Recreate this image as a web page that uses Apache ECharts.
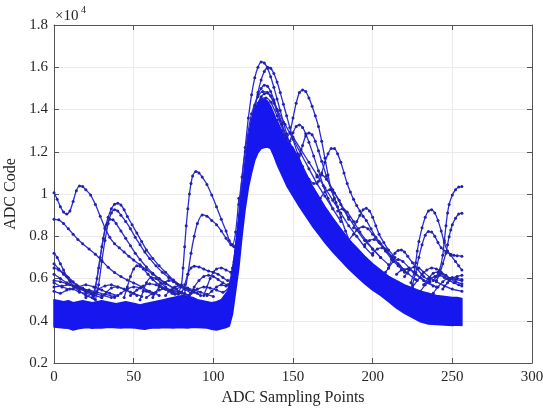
<!DOCTYPE html>
<html><head><meta charset="utf-8">
<script src="https://cdn.jsdelivr.net/npm/echarts@6/dist/echarts.min.js"></script>
<style>html,body{margin:0;padding:0;background:#fff}#c{width:543px;height:408px}</style>
</head><body><div id="c"></div>
<script>
// x-axis ticks and y-axis ticks (ADC code, labelled in units of 1e4)
const xTicks = [0, 50, 100, 150, 200, 250, 300];
const yTicks = [2000, 4000, 6000, 8000, 10000, 12000, 14000, 16000, 18000];

// dense envelope of the many overlapping traces (noise floor + main pulse)
const bandX = [0,3,6,9,12,15,18,21,24,27,30,33,36,39,42,45,48,51,54,57,60,63,66,69,72,75,78,81,84,87,90,93,96,99,102,105,108,
  110,112,114,116,118,120,122,124,126,128,130,132,134,136,138,140,143,146,
  150,154,158,162,166,170,175,180,185,190,195,200,205,210,215,220,225,230,235,240,245,250,253,256];
const bandLow = [3700,3680,3660,3640,3560,3620,3660,3680,3650,3670,3660,3680,3690,3670,3660,3680,3670,3660,3620,3600,3650,3670,3660,3680,3670,3660,3680,3670,3660,3690,3680,3670,3660,3600,3560,3620,3680,
  3750,4300,5400,6500,8000,9300,10300,11000,11600,11950,12150,12200,12220,12150,11800,11400,10900,10400,
  9900,9400,8950,8500,8100,7700,7250,6850,6450,6100,5750,5450,5200,4900,4600,4350,4150,3950,3850,3820,3800,3780,3800,3780];
const bandHigh = [5000,4950,4900,4950,4850,4900,4950,4900,4850,4900,4950,4900,4850,4800,4850,4900,4850,4800,4750,4800,4850,4900,4950,5000,5050,5100,5150,5200,5150,5100,5000,4950,4900,4850,4900,5000,5300,
  5500,6200,7600,8800,10200,11500,12700,13500,14000,14300,14450,14500,14400,14150,13800,13400,12900,12500,
  12200,11600,11000,10400,9900,9400,8850,8350,7850,7450,7050,6700,6400,6100,5900,5700,5550,5400,5300,5200,5150,5100,5100,5050];

// individual visible traces [sample, ADC code]
const A = [[0,10060],[2,9750],[4,9400],[6,9150],[8,9050],[10,9200],[12,9650],[14,10150],[16,10380],[18,10350],[20,10200],[23,9950],[26,9500],[29,8950],[32,8400],[35,7950],[38,7650],[41,7450],[44,7250],[47,7050],[50,6870],[54,6650],[58,6420],[62,6200],[66,5980],[70,5750],[75,5550],[80,5350],[85,5200]];
const B = [[0,8800],[3,8780],[6,8600],[9,8350],[12,8100],[15,7850],[18,7650],[22,7400],[26,7150],[30,6850],[34,6530],[38,6280],[42,6090],[46,5930],[50,5790],[55,5600],[60,5400],[66,5200]];
const C = [[24,5100],[26,5600],[28,6500],[30,7500],[32,8350],[34,8900],[36,9300],[38,9520],[40,9560],[42,9480],[44,9250],[46,8940],[49,8550],[52,8150],[55,7750],[58,7350],[62,6950],[66,6600],[70,6300],[75,5930],[80,5650],[85,5450],[90,5300]];
const D = [[26,5000],[28,5700],[30,6800],[32,7800],[34,8600],[36,9100],[38,9260],[40,9200],[42,9000],[45,8700],[48,8350],[51,7950],[54,7600],[57,7250],[60,6950],[64,6600],[68,6300],[72,6050],[77,5750],[82,5500]];
const E = [[25,5200],[27,6000],[29,7000],[31,7900],[33,8550],[35,8800],[37,8780],[39,8600],[42,8250],[45,7900],[48,7550],[51,7200],[54,6900],[58,6550],[62,6250],[66,6000],[70,5800],[75,5550],[80,5350]];
const F = [[44,5100],[46,5600],[48,6100],[50,6450],[52,6600],[54,6580],[56,6450],[59,6200],[62,5950],[66,5700],[70,5500],[75,5300]];
const G = [[54,5000],[56,5400],[58,5800],[61,6050],[64,6000],[67,5800],[70,5600],[74,5400],[78,5250]];
const H1 = [[0,7200],[2,7000],[4,6700],[6,6400],[8,6100],[10,5850],[13,5600],[16,5400],[20,5200],[25,5050]];
const H2 = [[0,6700],[3,6450],[6,6250],[9,6050],[12,5850],[15,5650],[19,5450],[24,5250],[30,5100]];
const H3 = [[0,5900],[4,5850],[8,5750],[12,5650],[16,5550],[20,5400],[25,5300],[30,5200],[36,5100]];
const H4 = [[0,5600],[5,5650],[10,5700],[14,5600],[18,5500],[22,5450],[27,5350],[32,5250],[38,5150]];
const H5 = [[0,5400],[4,5300],[8,5450],[12,5500],[16,5350],[20,5300],[25,5200]];
const N1 = [[0,5800],[5,5600],[10,5500],[15,5600],[20,5700],[25,5600],[30,5450],[35,5300],[40,5200]];
const N2 = [[20,5100],[24,5300],[28,5500],[32,5650],[36,5700],[40,5600],[45,5450],[50,5300],[55,5150]];
const N3 = [[38,5100],[42,5300],[46,5500],[50,5600],[54,5550],[58,5400],[62,5250]];
const N4 = [[48,5200],[52,5450],[56,5650],[60,5750],[64,5700],[68,5550],[72,5400],[76,5250]];
const N5 = [[58,5100],[62,5300],[66,5450],[70,5500],[74,5450],[78,5350],[82,5250]];
const N6 = [[74,5300],[77,5500],[80,5600],[84,5550],[88,5450],[92,5350],[96,5250],[100,5150]];
const N7 = [[84,5200],[87,5400],[90,5500],[94,5600],[98,5550],[102,5450],[106,5350],[110,5600]];
const N8 = [[96,5200],[99,5400],[102,5600],[105,5700],[108,5650],[111,5800]];
const N9 = [[0,6200],[4,6000],[8,5800],[12,5650],[16,5500],[20,5400],[24,5300]];
const N10 = [[0,6500],[3,6400],[6,6200],[10,5900],[14,5700],[18,5550],[22,5400],[26,5300]];
const M1 = [[30,5100],[33,5350],[36,5550],[40,5600],[44,5500],[48,5350],[52,5200]];
const M2 = [[62,5100],[64,5350],[66,5600],[69,5800],[72,5900],[75,5850],[78,5700],[82,5500],[86,5300]];
const M3 = [[70,5200],[73,5450],[76,5600],[80,5650],[84,5500],[88,5350],[92,5200]];
const K1 = [[78,5300],[80,5700],[81,6500],[82,7500],[83,8500],[84,9300],[85,10000],[86,10500],[87,10850],[89,11060],[91,11000],[93,10800],[96,10450],[99,9950],[102,9400],[105,8800],[108,8250],[110,7800],[112,7600],[114,8200],[116,9800]];
const K2 = [[82,5300],[84,6200],[86,7200],[88,8000],[90,8600],[93,9010],[96,8950],[99,8750],[102,8550],[105,8250],[108,7900],[111,7600],[113,7500],[115,8000],[117,9000]];
const K3 = [[80,5300],[82,5700],[84,6200],[86,6500],[88,6580],[91,6550],[94,6450],[97,6350],[100,6300],[103,6200],[106,6050],[109,5900],[112,6000],[114,6800]];
const K4 = [[86,5300],[88,5600],[91,5900],[94,6100],[97,6150],[100,6100],[103,5950],[106,5800],[109,5700],[112,6200]];
const K5 = [[94,5200],[96,5600],[98,6000],[100,6300],[102,6450],[105,6500],[108,6400],[111,6300],[113,6800]];
const P1 = [[108,5100],[110,5700],[112,6500],[114,7500],[116,9000],[118,10800],[120,12200],[122,13600],[124,14700],[126,15500],[128,16000],[130,16250],[132,16200],[134,15950],[136,15550],[138,15050],[140,14500],[142,13950],[144,13400],[146,12850],[148,12350],[150,11900],[153,11400]];
const P2 = [[110,5300],[112,5900],[114,6800],[116,7900],[118,9200],[120,10600],[122,11900],[124,13000],[126,14000],[128,14800],[130,15400],[132,15800],[134,16000],[136,15950],[138,15700],[140,15300],[142,14800],[144,14250],[146,13700],[148,13150],[150,12600],[153,11900],[156,11300]];
const P3 = [[112,6200],[114,7300],[116,8600],[118,10000],[120,11400],[122,12600],[124,13500],[126,14200],[128,14700],[130,15000],[132,15150],[134,15100],[136,14850],[138,14450],[140,14000],[143,13300],[146,12600],[149,12000]];
const P4 = [[112,5800],[114,6900],[116,8200],[118,9600],[120,11000],[122,12200],[124,13100],[126,13800],[128,14300],[130,14600],[132,14750],[134,14780],[136,14650],[138,14350],[140,13950],[143,13300],[146,12600]];
const P5 = [[114,6500],[118,9800],[122,12400],[126,13900],[130,14500],[133,14550],[136,14350],[140,13700],[145,12800]];
const P6 = [[116,9500],[120,12000],[124,13800],[128,14600],[131,14850],[134,14800],[138,14300],[142,13500],[146,12700]];
const S1 = [[140,13500],[143,13000],[146,12700],[148,12900],[150,13600],[152,14300],[154,14800],[156,14920],[158,14850],[160,14550],[162,14150],[164,13700],[166,13200],[168,12500],[170,11700],[172,10900],[174,10200],[176,9800],[178,9400],[180,8900],[183,8250],[186,7700],[189,7300],[192,7050],[196,6750],[200,6500]];
const S2 = [[160,10700],[163,10500],[166,10600],[168,11000],[170,11500],[172,11900],[174,12150],[176,12150],[178,11900],[180,11500],[182,11000],[184,10500],[186,10100],[188,9750],[190,9450],[192,9200],[194,8950],[196,8750],[199,8350],[202,7950],[205,7650],[208,7350],[212,7000],[216,6700],[220,6400]];
const S3 = [[146,12300],[148,12500],[150,12900],[152,13200],[154,13270],[156,13150],[158,12850],[160,12450],[163,11800],[166,11100],[169,10400],[172,9800],[175,9300]];
const S4 = [[152,11500],[154,11800],[156,12300],[158,12750],[160,12890],[162,12800],[164,12500],[166,12050],[168,11550],[171,10850],[174,10200],[177,9600]];
const S5 = [[164,9700],[167,9800],[170,10100],[173,10200],[176,10050],[179,9700],[182,9250],[185,8800]];
const Q1 = [[140,14000],[145,13300],[150,12600],[155,11900],[160,11200],[165,10500],[170,9900],[175,9300],[180,8700]];
const Q2 = [[150,12700],[155,12100],[160,11500],[165,10900],[170,10300],[175,9700],[180,9100],[185,8500],[190,8000],[195,7500],[200,7100]];
const Q3 = [[165,10800],[168,10900],[171,10700],[175,10200],[180,9500],[185,8900],[190,8300],[195,7800],[200,7400],[205,7000]];
const Q4 = [[178,9200],[181,9300],[184,9150],[188,8700],[192,8200],[196,7800],[200,7400],[205,7000],[210,6650]];
const Q5 = [[195,7600],[198,7800],[201,7850],[204,7700],[208,7300],[212,6900],[216,6600],[220,6300]];
const Q6 = [[200,7200],[203,7400],[206,7450],[209,7300],[213,6950],[217,6600],[222,6250],[227,5950]];
const Q7 = [[210,6500],[213,6800],[216,6900],[219,6800],[223,6500],[227,6200],[232,5900],[238,5650]];
const Q8 = [[220,6100],[223,6400],[226,6550],[229,6500],[232,6300],[236,6050],[240,5850],[245,5650],[250,5500],[256,5400]];
const Q9 = [[232,5700],[235,6000],[238,6250],[241,6300],[244,6200],[248,6000],[252,5850],[256,5750]];
const Q10 = [[244,5500],[247,5800],[250,6000],[253,6100],[256,6150]];
const Q11 = [[215,6200],[218,6400],[222,6450],[226,6300],[230,6050],[235,5800],[240,5600]];
const T1 = [[188,8400],[190,8700],[192,9000],[194,9250],[196,9320],[198,9200],[200,8900],[202,8500],[204,8100],[207,7700],[210,7350],[214,7000]];
const W1 = [[185,7800],[188,8100],[191,8350],[194,8450],[197,8350],[200,8100],[204,7750],[208,7400],[212,7050]];
const U1 = [[208,6300],[210,6500],[212,6900],[214,7200],[216,7330],[218,7350],[220,7250],[222,7050],[225,6750],[228,6450],[232,6100],[236,5850]];
const R1 = [[238,5900],[240,6100],[242,6400],[244,7100],[245,7800],[246,8500],[247,9100],[248,9500],[250,9950],[252,10200],[254,10330],[256,10350]];
const R2 = [[240,5900],[242,6200],[244,6700],[246,7200],[247,7600],[248,7980],[249,8300],[250,8550],[252,8850],[254,9050],[256,9090]];
const R3 = [[224,5800],[226,6300],[227,6750],[228,7300],[229,7750],[231,8400],[233,8900],[235,9200],[237,9250],[239,9100],[241,8750],[243,8250],[245,7700],[247,7300],[249,7150],[251,7100],[253,7080],[256,7050]];
const R4 = [[225,5700],[227,6300],[229,7000],[231,7600],[233,8050],[235,8220],[237,8200],[239,8000],[241,7700],[243,7450],[246,7280],[249,7100],[252,6800],[254,6600],[256,6400]];
const V1 = [[225,5600],[228,5900],[231,6200],[234,6400],[237,6500],[240,6450],[243,6300],[246,6150],[249,6000],[252,5950],[256,5900]];
const V2 = [[230,5400],[233,5700],[236,5950],[239,6100],[242,6150],[245,6050],[248,5900],[251,5800],[254,5700],[256,5650]];
const V3 = [[238,5300],[241,5600],[244,5850],[247,6000],[250,6050],[253,6000],[256,5950]];

const traces = [A,B,C,D,E,F,G,H1,H2,H3,H4,H5,N1,N2,N3,N4,N5,N6,N7,N8,N9,N10,M1,M2,M3,K1,K2,K3,K4,K5,
  P1,P2,P3,P4,P5,P6,S1,S2,S3,S4,S5,Q1,Q2,Q3,Q4,Q5,Q6,Q7,Q8,Q9,Q10,Q11,T1,W1,U1,R1,R2,R3,R4,V1,V2,V3];

const FONT = 'Liberation Serif';
const TXT = '#262626';
const AX = '#555555';
const BAND = '#1616ee';

const chart = echarts.init(document.getElementById('c'), null, {renderer: 'canvas'});
const axLine = {show: true, onZero: false, lineStyle: {color: AX, width: 1}};
const axTick = {show: true, inside: true, length: 5, lineStyle: {color: AX}};
const xBase = {type: 'value', min: xTicks[0], max: xTicks[xTicks.length-1], interval: xTicks[1]-xTicks[0]};
const yBase = {type: 'value', min: yTicks[0], max: yTicks[yTicks.length-1], interval: yTicks[1]-yTicks[0]};

const series = traces.map(t => ({
  type: 'line', data: t, smooth: 0.25, symbol: 'circle', symbolSize: 3, showSymbol: true,
  lineStyle: {color: '#2a2ad8', width: 1.3}, itemStyle: {color: '#2222a8'}, z: 2, silent: true
}));
// dense band drawn as one polygon through the axis scales
series.push({
  type: 'custom', coordinateSystem: 'cartesian2d', data: [[bandX[0], bandLow[0]]], z: 3, silent: true,
  renderItem: function (params, api) {
    const pts = [];
    for (let i = 0; i < bandX.length; i++) pts.push(api.coord([bandX[i], bandHigh[i]]));
    for (let i = bandX.length - 1; i >= 0; i--) pts.push(api.coord([bandX[i], bandLow[i]]));
    return {type: 'polygon', shape: {points: pts}, style: {fill: BAND, stroke: BAND, lineWidth: 1.5, lineJoin: 'round'}};
  }
});

chart.setOption({
  animation: false,
  backgroundColor: '#ffffff',
  grid: {left: 54, right: 11, top: 25, bottom: 45, containLabel: false, outerBoundsMode: 'none'},
  graphic: [
    {type: 'text', left: 55, top: 9, style: {text: '×10', font: '15px "Liberation Serif"', fill: TXT}},
    {type: 'text', left: 81, top: 5, style: {text: '4', font: '10px "Liberation Serif"', fill: TXT}}
  ],
  xAxis: [
    Object.assign({}, xBase, {position: 'bottom', axisLine: axLine, axisTick: axTick,
      axisLabel: {color: TXT, fontFamily: FONT, fontSize: 15, margin: 7},
      splitLine: {show: true, lineStyle: {color: '#ebebeb', width: 1}},
      name: 'ADC Sampling Points', nameLocation: 'middle', nameGap: 24,
      nameTextStyle: {color: TXT, fontFamily: FONT, fontSize: 16}}),
    Object.assign({}, xBase, {position: 'top', axisLine: axLine, axisTick: axTick,
      axisLabel: {show: false}, splitLine: {show: false}})
  ],
  yAxis: [
    Object.assign({}, yBase, {position: 'left', axisLine: axLine, axisTick: axTick,
      axisLabel: {color: TXT, fontFamily: FONT, fontSize: 15, margin: 6,
        formatter: v => String(parseFloat((v / 10000).toFixed(1)))},
      splitLine: {show: true, lineStyle: {color: '#ebebeb', width: 1}},
      name: 'ADC Code', nameLocation: 'middle', nameGap: 30,
      nameTextStyle: {color: TXT, fontFamily: FONT, fontSize: 16}}),
    Object.assign({}, yBase, {position: 'right', axisLine: axLine, axisTick: axTick,
      axisLabel: {show: false}, splitLine: {show: false}})
  ],
  series: series
});
</script></body></html>
